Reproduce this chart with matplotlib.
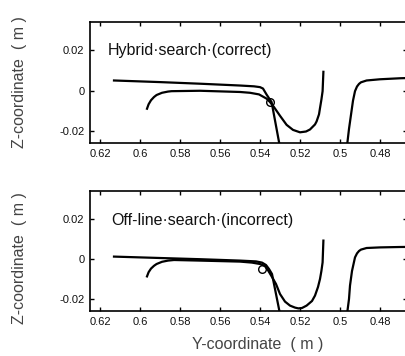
import numpy as np
import matplotlib
matplotlib.use("Agg")
import matplotlib.pyplot as plt

plt.rcParams['font.family'] = ['Liberation Sans', 'DejaVu Sans']
plt.rcParams['axes.unicode_minus'] = False

# top panel: hybrid search
top_a_y = [0.613, 0.59, 0.57, 0.55, 0.543, 0.540, 0.5385, 0.5367, 0.5355, 0.5342, 0.5304, 0.5295]
top_a_z = [0.0050, 0.0042, 0.0034, 0.0025, 0.0021, 0.0017, 0.0010, -0.0020, -0.0038, -0.0057, -0.0260, -0.0300]
top_b_y = [0.5965, 0.5957, 0.5945, 0.593, 0.5917, 0.589, 0.586, 0.5842, 0.57, 0.55, 0.545,
           0.5405, 0.5367, 0.535, 0.533, 0.530, 0.5267, 0.5235, 0.52, 0.517, 0.515,
           0.5125, 0.5117, 0.5105, 0.51, 0.5093, 0.5087, 0.5083]
top_b_z = [-0.0090, -0.0068, -0.0048, -0.0032, -0.0022, -0.0011, -0.0005, -0.0003, -0.0001, -0.0007, -0.0011,
           -0.0019, -0.0040, -0.0057, -0.0082, -0.0125, -0.0170, -0.0195, -0.0207, -0.0203, -0.0193,
           -0.0168, -0.0153, -0.0118, -0.0087, -0.0045, -0.0003, 0.0093]
top_c_y = [0.4968, 0.4955, 0.4945, 0.4935, 0.4925, 0.4915, 0.4905, 0.4895, 0.4867, 0.480, 0.470, 0.460]
top_c_z = [-0.030, -0.019, -0.012, -0.005, -0.0003, 0.0020, 0.0033, 0.0041, 0.0050, 0.0056, 0.0061, 0.0064]
top_mark = (0.535, -0.0057)

# bottom panel: off-line search
bot_a_y = [0.613, 0.59, 0.57, 0.55, 0.542, 0.539, 0.537, 0.5355, 0.534, 0.5303, 0.5295]
bot_a_z = [0.0012, 0.0005, -0.0001, -0.0008, -0.0012, -0.0018, -0.0030, -0.0050, -0.0075, -0.0260, -0.0300]
bot_b_y = [0.5965, 0.5957, 0.5945, 0.593, 0.5917, 0.589, 0.586, 0.583, 0.57, 0.55, 0.544,
           0.540, 0.5375, 0.5359, 0.534, 0.532, 0.530, 0.5275, 0.525, 0.5225, 0.5208,
           0.519, 0.5167, 0.514, 0.5125, 0.511, 0.51, 0.5093, 0.5087, 0.5083]
bot_b_z = [-0.0087, -0.0066, -0.0048, -0.0034, -0.0025, -0.0014, -0.0008, -0.0005, -0.0008, -0.0013, -0.0018,
           -0.0025, -0.0035, -0.0058, -0.0090, -0.0125, -0.0175, -0.0213, -0.0233, -0.0243, -0.0247,
           -0.0245, -0.0233, -0.0210, -0.0183, -0.0140, -0.0100, -0.0060, -0.0017, 0.0092]
bot_c_y = [0.4968, 0.4955, 0.495, 0.494, 0.4925, 0.4915, 0.4905, 0.4895, 0.4867, 0.48, 0.47, 0.46]
bot_c_z = [-0.030, -0.020, -0.0133, -0.006, 0.0008, 0.0028, 0.0040, 0.0047, 0.0055, 0.0058, 0.0060, 0.0061]
bot_mark = (0.539, -0.005)

xticks = [0.62, 0.6, 0.58, 0.56, 0.54, 0.52, 0.5, 0.48]
xticklabels = ["0.62", "0.6", "0.58", "0.56", "0.54", "0.52", "0.5", "0.48"]
yticks = [0.02, 0, -0.02]
yticklabels = ["0.02", "0", "-0.02"]

W, H = 406, 356
fig = plt.figure(figsize=(W / 100, H / 100), dpi=100)
ax1 = fig.add_axes([90 / W, 1 - 143 / H, 317 / W, 121 / H])
ax2 = fig.add_axes([90 / W, 1 - 311 / H, 317 / W, 120 / H])

panels = [
    (ax1, top_a_y, top_a_z, top_b_y, top_b_z, top_c_y, top_c_z, top_mark,
     "Hybrid\u00b7search\u00b7(correct)", 0.616, 0.0200, 0.50),
    (ax2, bot_a_y, bot_a_z, bot_b_y, bot_b_z, bot_c_y, bot_c_z, bot_mark,
     "Off-line\u00b7search\u00b7(incorrect)", 0.6145, 0.0190, 0.44),
]

for ax, ay, az, by, bz, cy, cz, mk, title, tx, tz, ylab_y in panels:
    ax.plot(ay, az, color="black", lw=1.6)
    ax.plot(by, bz, color="black", lw=1.6)
    ax.plot(cy, cz, color="black", lw=1.6)
    ax.plot([mk[0]], [mk[1]], "o", mfc="none", mec="black", ms=5.5, mew=1.0)
    ax.set_xlim(0.625, 0.4665)
    ax.set_ylim(-0.026, 0.034)
    ax.set_xticks(xticks)
    ax.set_xticklabels(xticklabels)
    ax.set_yticks(yticks)
    ax.set_yticklabels(yticklabels)
    ax.tick_params(direction="in", top=True, right=True, length=3, width=1,
                   labelsize=8, labelcolor="#111111", pad=4)
    for s in ax.spines.values():
        s.set_linewidth(1.2)
    ax.text(tx, tz, title, fontsize=11.5, color="#111111", va="center", ha="left")
    ax.set_ylabel("Z-coordinate  ( m )", fontsize=11.5, color="#444444")
    ax.yaxis.set_label_coords(-0.20, ylab_y)

ax2.set_xlabel("Y-coordinate  ( m )", fontsize=11.5, color="#444444")
ax2.xaxis.set_label_coords(0.53, -0.22)

fig.savefig("out.png", dpi=100)
